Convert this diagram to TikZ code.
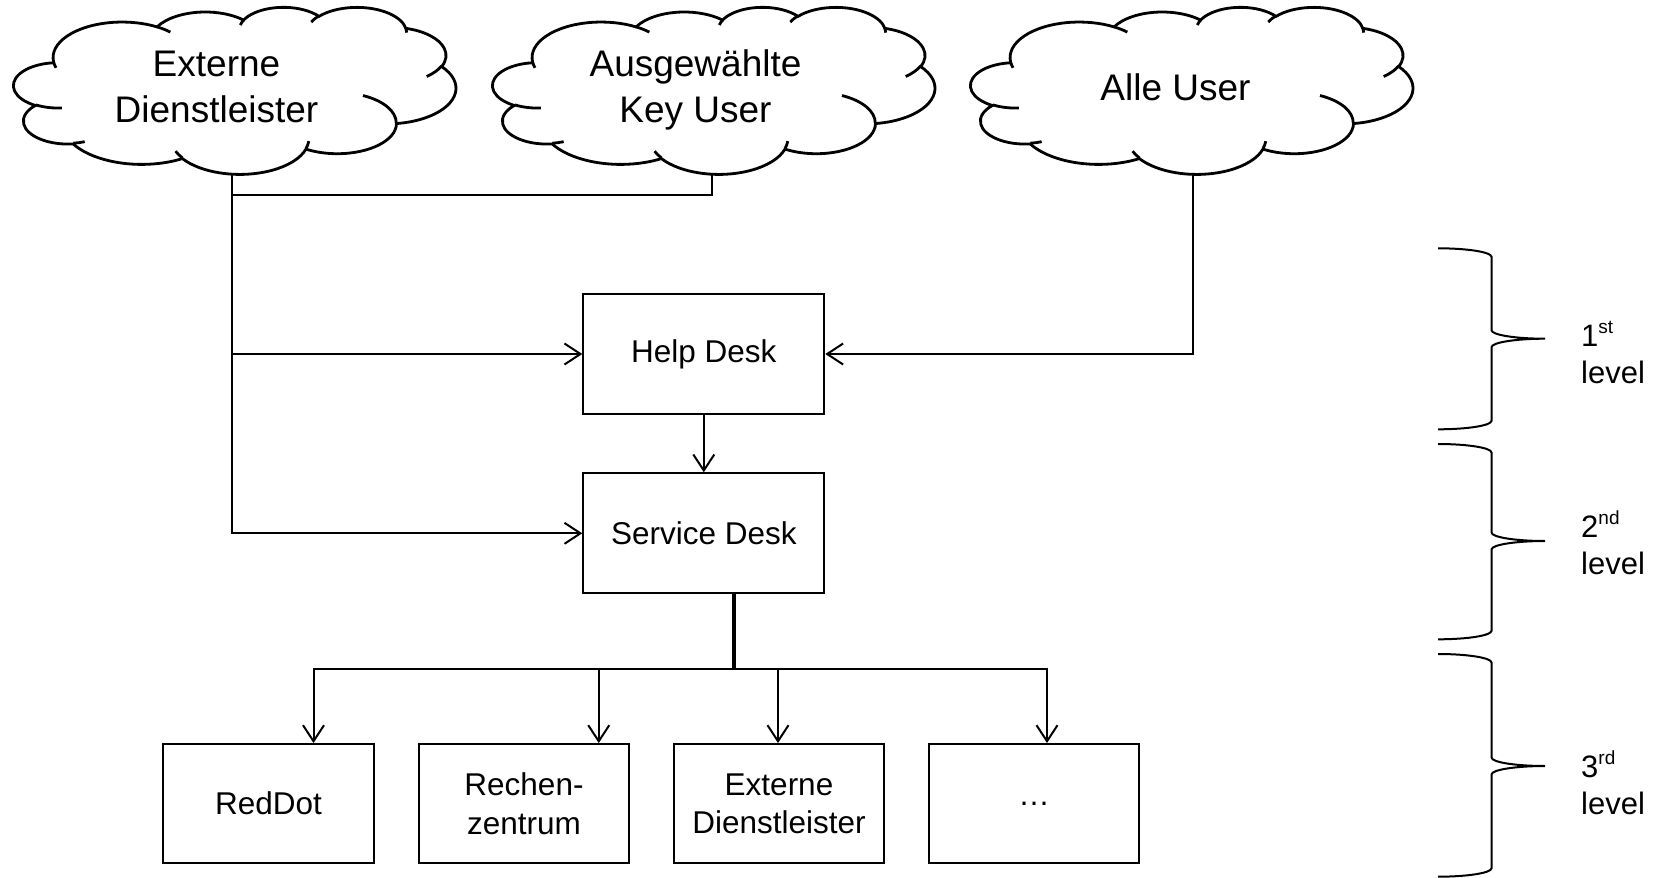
\documentclass[tikz,border=0pt]{standalone}
\usepackage{fontspec}
\setmainfont{Liberation Sans}
\usetikzlibrary{arrows.meta}

% visual (DrawingML) angles -> parametric angles for an ellipse arc
\newcommand\cldcalc[4]{%
  \pgfmathsetmacro\cldS{atan2((#1)*sin(#3),(#2)*cos(#3))}%
  \pgfmathsetmacro\cldE{atan2((#1)*sin((#3)+(#4)),(#2)*cos((#3)+(#4)))}%
  \ifdim #4pt>0pt
    \ifdim\cldE pt<\cldS pt \pgfmathsetmacro\cldE{\cldE+360}\fi
  \else
    \ifdim\cldE pt>\cldS pt \pgfmathsetmacro\cldE{\cldE-360}\fi
  \fi
}

\tikzset{
  carc/.code n args={4}{\cldcalc{#1}{#2}{#3}{#4}%
    \edef\cldtmp{\noexpand\tikzset{start angle=\cldS,end angle=\cldE,x radius=#1,y radius=#2}}\cldtmp},
  conn/.style={line width=2pt},
  arr/.style={conn,-{Straight Barb[length=16pt,width=21pt]}},
  stemline/.style={line width=3.5pt},
  deskbox/.style={draw,line width=2pt,inner sep=0pt,minimum width=241pt,minimum height=120pt,
    font=\fontsize{31.5}{38.3}\selectfont,align=center},
  unitbox/.style={deskbox,minimum width=210.5pt,minimum height=119.3pt},
  cloudbox/.style={inner sep=0pt,minimum width=442pt,minimum height=167pt},
  cloudtext/.style={font=\fontsize{37}{46}\selectfont,anchor=base,inner sep=0pt},
  cloudline/.style={line width=2.8pt},
  braceline/.style={line width=2pt},
  lvl/.style={font=\fontsize{31}{36}\selectfont,anchor=base west,inner sep=0pt},
}

\newcommand\drawcloud[1]{%
  \begin{scope}[shift={(#1.north west)},xscale=10.23148,yscale=3.86574]
    \filldraw[cloudline,fill=white] (3.900,14.370)
      arc[carc={6.753}{9.190}{-190.48748}{123.78053}]
      arc[carc={5.333}{7.267}{-144.10238}{89.94523}]
      arc[carc={4.365}{5.945}{-145.80792}{99.72302}]
      arc[carc={4.857}{6.595}{-130.98607}{117.24173}]
      arc[carc={5.333}{7.273}{-78.70888}{109.02692}]
      arc[carc={6.775}{9.220}{-46.26725}{130.269}]
      arc[carc={5.785}{7.867}{0.62502}{114.03333}]
      arc[carc={6.752}{9.215}{22.4516}{115.17255}]
      arc[carc={7.720}{10.543}{66.24263}{75.71102}]
      arc[carc={4.360}{5.936}{-274.94208}{146.73557}]
      arc[carc={4.345}{5.945}{-246.8285}{152.51885}]
      -- cycle;
    \draw[cloudline]
      (4.693,26.177) arc[carc={4.345}{5.945}{86.742}{26.4295}]
      (6.928,34.899) arc[carc={4.360}{5.936}{73.61047}{11.44747}]
      (16.478,39.090) arc[carc={6.752}{9.215}{137.62415}{14.0811}]
      (28.827,34.751) arc[carc={6.752}{9.215}{6.45327}{15.99835}]
      (34.129,22.954) arc[carc={5.785}{7.867}{-70.29235}{70.91737}]
      (41.798,15.354) arc[carc={5.333}{7.273}{30.31803}{27.7515}]
      (38.324,5.426) arc[carc={4.857}{6.595}{-13.74433}{14.8589}]
      (29.078,3.952) arc[carc={4.857}{6.595}{-149.18145}{18.19537}]
      (22.141,4.720) arc[carc={4.365}{5.945}{-163.49427}{17.68635}]
      (14.000,5.192) arc[carc={6.753}{9.190}{-66.70695}{12.31935}]
      (4.127,15.789) arc[carc={6.753}{9.190}{157.65435}{11.85817}];
  \end{scope}}

% right curly brace: top, middle, bottom (y in px)
\newcommand\levbrace[3]{%
  \draw[braceline] (1438,#1)
    arc[start angle=-90,end angle=0,x radius=53.5,y radius=8.5]
    -- (1491.5,{#2-8.5})
    arc[start angle=180,end angle=90,x radius=53.5,y radius=8.5]
    arc[start angle=-90,end angle=-180,x radius=53.5,y radius=8.5]
    -- (1491.5,{#3-8.5})
    arc[start angle=0,end angle=90,x radius=53.5,y radius=8.5];}

\newcommand\supr[1]{\raisebox{12.5pt}{\fontsize{19}{19}\selectfont #1}}

\begin{document}
\begin{tikzpicture}[x=1pt,y=-1pt]
\useasboundingbox (0,0) rectangle (1658,878);

% clouds
\node[cloudbox] (c1) at (235,90.5) {};
\node[cloudbox] (c2) at (714,90.5) {};
\node[cloudbox] (c3) at (1192,90.5) {};
\drawcloud{c1}
\drawcloud{c2}
\drawcloud{c3}
\node[cloudtext] (c1t) at (216.5,76) {\begin{tabular}[t]{@{}c@{}}Externe\\Dienstleister\end{tabular}};
\node[cloudtext] (c2t) at (695.5,76) {\begin{tabular}[t]{@{}c@{}}Ausgewählte\\Key User\end{tabular}};
\node[cloudtext] (c3t) at (1175.5,100.5) {Alle User};

% desks
\node[deskbox] (hd) at (703.8,354) {Help Desk};
\node[deskbox] (sd) at (703.8,533.3) {Service Desk};

% 3rd level units
\node[unitbox] (b1) at (268.5,803.7) {RedDot};
\node[unitbox] (b2) at (524,803.7) {Rechen-\\zentrum};
\node[unitbox] (b3) at (779,803.7) {Externe\\Dienstleister};
\node[unitbox] (b4) at (1034,803.7) {…};

% connectors from clouds
\coordinate (c1b) at ([xshift=-3.5pt]c1.south);
\coordinate (c2b) at ([xshift=-2.4pt]c2.south);
\coordinate (c3b) at ([xshift=0.7pt]c3.south);
\draw[arr] (c1b) |- (sd.west);
\draw[arr] (c1b |- hd.west) -- (hd.west);
\draw[conn] (c2b) -- ++(0,21) -| (c1b);
\draw[arr] (c3b) |- (hd.east);
\draw[arr] (hd) -- (sd);

% tree to 3rd level
\coordinate (sdo) at ([xshift=30pt]sd.south);
\coordinate (jn) at (733.8,669.3);
\draw[stemline] (sdo) -- (jn);
\draw[arr] (jn) -| ([xshift=45pt]b1.north);
\draw[arr] (jn) -| ([xshift=74.75pt]b2.north);
\draw[arr] (jn) -| ([xshift=-1pt]b3.north);
\draw[arr] (jn) -| ([xshift=13pt]b4.north);

% braces and level labels
\levbrace{248.3}{338.7}{429.3}
\levbrace{444}{541}{639.3}
\levbrace{654}{766}{876.7}
\node[lvl] (l1n) at (1581,346) {1\supr{st}};
\node[lvl] (l1l) at (1581,383) {level};
\node[lvl] (l2n) at (1581,537) {2\supr{nd}};
\node[lvl] (l2l) at (1581,574) {level};
\node[lvl] (l3n) at (1581,777) {3\supr{rd}};
\node[lvl] (l3l) at (1581,814) {level};
\end{tikzpicture}
\end{document}
